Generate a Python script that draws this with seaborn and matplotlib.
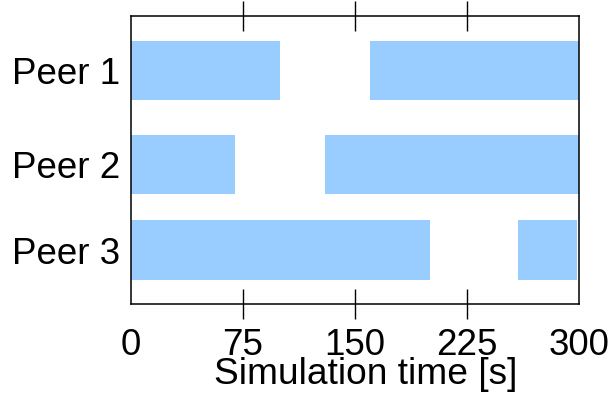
import matplotlib
matplotlib.use("Agg")
import matplotlib.pyplot as plt
import seaborn as sns

# online intervals per peer (start, end) in seconds
peers = ["Peer 1", "Peer 2", "Peer 3"]
peer1_online = [(0, 100), (160, 300)]
peer2_online = [(0, 70), (130, 300)]
peer3_online = [(0, 200), (259, 299)]
intervals = [peer1_online, peer2_online, peer3_online]
xticks = [0, 75, 150, 225, 300]

sns.set_style("white")
plt.rcParams['font.family'] = ['Liberation Sans', 'DejaVu Sans']
plt.rcParams['text.color'] = 'black'
plt.rcParams['axes.labelcolor'] = 'black'
plt.rcParams['xtick.color'] = 'black'
plt.rcParams['ytick.color'] = 'black'

fig = plt.figure(figsize=(6.12, 3.97), dpi=100)
ax = fig.add_axes([0.214, 0.234, 0.732, 0.726])

# vertical slot (bottom, height) of each peer row
rows = [(25.5, 7.4), (13.75, 7.4), (3.0, 7.5)]
for segs, (y0, h) in zip(intervals, rows):
    ax.broken_barh([(s, e - s) for s, e in segs], (y0, h), facecolors="#99ccff", edgecolor="none")

ax.set_xlim(0, 300)
ax.set_ylim(0, 36)
ax.set_xticks(xticks)
ax.set_yticks([y0 + h / 2 for y0, h in rows])
ax.set_yticklabels(peers)
ax.tick_params(axis="x", which="both", direction="inout", length=22, width=1,
               top=True, bottom=True, labelsize=26.5, pad=6)
ax.tick_params(axis="y", length=0, labelsize=26.5, pad=8)
# no tick marks at the axis ends
for t in (ax.xaxis.get_major_ticks()[0], ax.xaxis.get_major_ticks()[-1]):
    t.tick1line.set_visible(False)
    t.tick2line.set_visible(False)
for sp in ax.spines.values():
    sp.set_color("black")
    sp.set_linewidth(1.1)
ax.set_xlabel("Simulation time [s]", fontsize=26.7, labelpad=-4)
ax.xaxis.label.set_x(0.525)

fig.savefig("out.png", dpi=100)
